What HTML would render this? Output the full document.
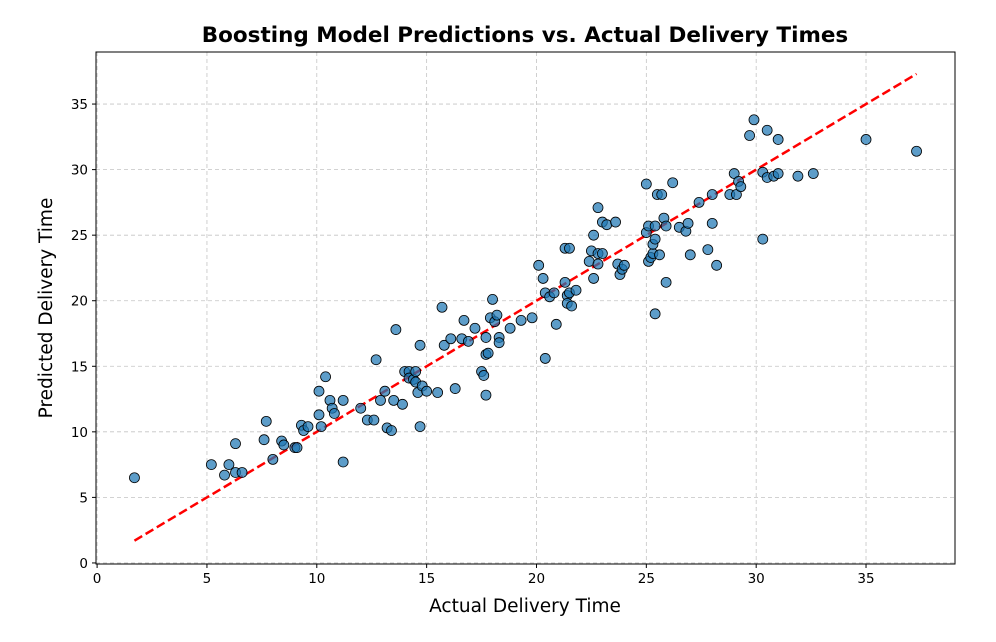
<!DOCTYPE html>
<html><head><meta charset="utf-8"><style>
body{margin:0;background:#fff;}
svg text{font-family:"DejaVu Sans","Liberation Sans",sans-serif;}
</style></head><body>
<svg id="chart" width="996" height="637" xmlns="http://www.w3.org/2000/svg">
<text x="525" y="42" text-anchor="middle" font-size="21.5" font-weight="bold">Boosting Model Predictions vs. Actual Delivery Times</text>
<g id="grid"></g>
<g id="line"></g>
<g id="pts"></g>
<rect x="96" y="52" width="859" height="512" fill="none" stroke="#000" stroke-width="1"/>
<g id="ticks"></g>
<text x="525" y="612" text-anchor="middle" font-size="18.5">Actual Delivery Time</text>
<text transform="translate(52,308) rotate(-90)" text-anchor="middle" font-size="18.5">Predicted Delivery Time</text>
</svg>
<script>
const actual=[1.7,5.2,6.0,5.8,6.3,6.3,6.6,7.7,7.6,8.0,8.4,8.5,9.0,9.1,9.3,9.4,9.6,10.1,10.1,10.2,10.4,10.6,10.7,10.8,11.2,11.2,12.0,12.3,12.6,12.7,12.9,13.1,13.2,13.4,13.5,13.6,13.9,14.0,14.2,14.2,14.4,14.5,14.5,14.6,14.7,14.7,14.8,15.0,15.5,15.7,15.8,16.1,16.3,16.6,16.7,16.9,17.2,17.5,17.6,17.7,17.7,17.7,17.8,17.9,18.0,18.1,18.2,18.3,18.3,18.8,19.3,19.8,20.1,20.3,20.4,20.4,20.6,20.8,20.9,21.3,21.3,21.4,21.4,21.5,21.5,21.6,21.8,22.4,22.5,22.6,22.6,22.8,22.8,22.8,23.0,23.0,23.2,23.6,23.7,23.8,23.9,24.0,25.0,25.0,25.1,25.1,25.2,25.3,25.3,25.4,25.4,25.4,25.5,25.6,25.7,25.8,25.9,25.9,26.2,26.5,26.8,26.9,27.0,27.4,27.8,28.0,28.0,28.2,28.8,29.0,29.1,29.2,29.3,29.7,29.9,30.3,30.3,30.5,30.5,30.8,31.0,31.0,31.9,32.6,35.0,37.3];
const predicted=[6.5,7.5,7.5,6.7,9.1,6.9,6.9,10.8,9.4,7.9,9.3,9.0,8.8,8.8,10.5,10.1,10.4,13.1,11.3,10.4,14.2,12.4,11.8,11.4,12.4,7.7,11.8,10.9,10.9,15.5,12.4,13.1,10.3,10.1,12.4,17.8,12.1,14.6,14.6,14.1,14.0,14.6,13.8,13.0,10.4,16.6,13.5,13.1,13.0,19.5,16.6,17.1,13.3,17.1,18.5,16.9,17.9,14.6,14.3,12.8,17.2,15.9,16.0,18.7,20.1,18.4,18.9,17.2,16.8,17.9,18.5,18.7,22.7,21.7,15.6,20.6,20.3,20.6,18.2,24.0,21.4,20.4,19.8,24.0,20.6,19.6,20.8,23.0,23.8,21.7,25.0,22.8,27.1,23.6,23.6,26.0,25.8,26.0,22.8,22.0,22.4,22.7,28.9,25.2,23.0,25.7,23.3,23.6,24.3,24.7,19.0,25.7,28.1,23.5,28.1,26.3,21.4,25.7,29.0,25.6,25.3,25.9,23.5,27.5,23.9,25.9,28.1,22.7,28.1,29.7,28.1,29.1,28.7,32.6,33.8,24.7,29.8,33.0,29.4,29.5,29.7,32.3,29.5,29.7,32.3,31.4];
const xTicks=[0,5,10,15,20,25,30,35];
const yTicks=[0,5,10,15,20,25,30,35];
const X0=96,X1=955,Y0=564,Y1=52,xmin=-0.05,xmax=39.05,ymin=-0.08,ymax=38.97;
const sx=v=>X0+(v-xmin)/(xmax-xmin)*(X1-X0);
const sy=v=>Y0-(v-ymin)/(ymax-ymin)*(Y0-Y1);
const NS="http://www.w3.org/2000/svg";
function mk(t,a,p){const e=document.createElementNS(NS,t);for(const k in a)e.setAttribute(k,a[k]);p.appendChild(e);return e;}
const g=document.getElementById('grid'),tk=document.getElementById('ticks');
xTicks.forEach(v=>{const x=sx(v);
const l=mk('line',{x1:x,x2:x,y1:Y1,y2:Y0,stroke:'#c4c4c4','stroke-dasharray':'4,3','stroke-width':0.8},g);


mk('line',{x1:x,x2:x,y1:Y0,y2:Y0+4,stroke:'#000'},tk);
const t=mk('text',{x:x,y:Y0+19,'text-anchor':'middle','font-size':13.5},tk);t.textContent=v;

});
yTicks.forEach(v=>{const y=sy(v);
const l=mk('line',{x1:X0,x2:X1,y1:y,y2:y,stroke:'#c4c4c4','stroke-dasharray':'4,3','stroke-width':0.8},g);


mk('line',{x1:X0-4,x2:X0,y1:y,y2:y,stroke:'#000'},tk);
const t=mk('text',{x:X0-8,y:y+5,'text-anchor':'end','font-size':13.5},tk);t.textContent=v;

});
const mn=Math.min(...actual),mx=Math.max(...actual);
const ln=mk('line',{x1:sx(mn),y1:sy(mn),x2:sx(mx),y2:sy(mx),stroke:'#ff0000','stroke-width':2.5,'stroke-dasharray':'9,4'},document.getElementById('line'));


const P=document.getElementById('pts');
actual.forEach((a,i)=>{const c=mk('circle',{cx:sx(a),cy:sy(predicted[i]),r:5,fill:'rgba(31,119,180,0.72)',stroke:'#000','stroke-width':0.8},P);

});
</script>
</body></html>
